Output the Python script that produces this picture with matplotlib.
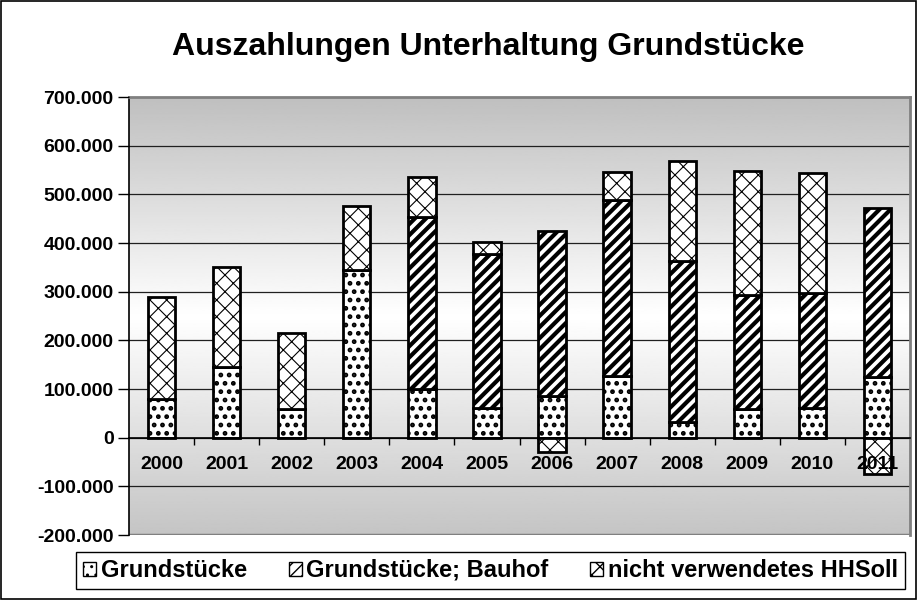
import numpy as np
from matplotlib import pyplot as plt
from matplotlib.patches import Rectangle

plt.rcParams['font.family'] = ['Liberation Sans', 'DejaVu Sans']
plt.rcParams['font.weight'] = 'bold'

years = ['2000', '2001', '2002', '2003', '2004', '2005',
         '2006', '2007', '2008', '2009', '2010', '2011']
grundstuecke = [80000, 145000, 59000, 345000, 100000, 61000,
                86000, 126000, 32000, 59000, 61000, 125000]
bauhof = [0, 0, 0, 0, 354000, 316000,
          338000, 363000, 330000, 235000, 236000, 347000]
hhsoll = [209000, 205000, 157000, 132000, 81000, 26000,
          -29000, 56000, 207000, 253000, 246000, -74000]
series_names = ['Grundstücke', 'Grundstücke; Bauhof', 'nicht verwendetes HHSoll']
y_ticks = [-200000, -100000, 0, 100000, 200000, 300000, 400000, 500000, 600000, 700000]


def fmt(v):
    return '{:,.0f}'.format(v).replace(',', '.')


fig = plt.figure(figsize=(9.17, 6.0), dpi=100)
fig.patches.append(Rectangle((0.001, 0.001), 0.998, 0.997, transform=fig.transFigure,
                             fill=False, edgecolor='black', linewidth=1.2))
ax = fig.add_axes([129 / 917, 1 - 535 / 600, (910 - 129) / 917, (535 - 97) / 600])
ax.set_axisbelow(False)

x = np.arange(len(years))
ax.set_xlim(-0.5, len(years) - 0.5)
ax.set_ylim(-200000, 700000)

# background gradient: grey at top and bottom, white in the middle
grad = np.interp(np.linspace(700000, -200000, 300), [-200000, 250000, 700000], [0.77, 1.0, 0.75])
ax.imshow(grad[:, None], cmap='gray', vmin=0, vmax=1, aspect='auto',
          extent=(-0.5, len(years) - 0.5, -200000, 700000), zorder=0)

for t in y_ticks[1:-1]:
    ax.axhline(t, color='#202020', linewidth=0.9, zorder=1)

width = 0.42
bottom_pos = np.zeros(len(years))
bottom_neg = np.zeros(len(years))
hatches = ['..', '///', 'xx']
hatch_lw = [2.2, 3.0, 0.8]
handles = []
for vals, name, h, hlw in zip([grundstuecke, bauhof, hhsoll], series_names, hatches, hatch_lw):
    vals = np.array(vals, dtype=float)
    base = np.where(vals >= 0, bottom_pos, bottom_neg)
    bars = ax.bar(x, vals, width, bottom=base, color='white', edgecolor='black',
                  hatch=h, linewidth=2.0, label=name, zorder=2)
    for b in bars:
        if hasattr(b, 'set_hatch_linewidth'):
            b.set_hatch_linewidth(hlw)
    bottom_pos = bottom_pos + np.where(vals >= 0, vals, 0)
    bottom_neg = bottom_neg + np.where(vals < 0, vals, 0)
    handles.append(bars)

for s in ['top', 'right']:
    ax.spines[s].set_color('#808080')
    ax.spines[s].set_linewidth(2)
ax.spines['left'].set_color('black')
ax.spines['left'].set_linewidth(1.2)
ax.spines['bottom'].set_position(('data', 0))
ax.spines['bottom'].set_color('black')
ax.spines['bottom'].set_linewidth(1.2)
ax.axhline(-200000, color='#808080', linewidth=2.5, zorder=1.5)

ax.set_yticks(y_ticks)
ax.set_yticklabels([fmt(v) for v in y_ticks], fontsize=14, fontweight='bold')
ax.tick_params(axis='y', direction='out', length=8, width=1, pad=3)

ax.set_xticks(x[:-1] + 0.5)
ax.set_xticklabels([])
ax.tick_params(axis='x', which='major', direction='out', length=5, width=1)
ax.set_xticks(x, minor=True)
ax.set_xticklabels(years, minor=True, fontsize=14, fontweight='bold')
ax.tick_params(axis='x', which='minor', length=0, pad=13)

fig.text(0.532, 0.922, 'Auszahlungen Unterhaltung Grundstücke', ha='center', va='center',
         fontsize=23, fontweight='bold')

leg = fig.legend(handles=handles, labels=series_names, loc='center', mode='expand',
                 bbox_to_anchor=(76 / 917, 1 - 592 / 600, (905 - 76) / 917, 43 / 600),
                 ncol=3, frameon=True, fancybox=False,
                 edgecolor='black', framealpha=1, prop={'size': 17, 'weight': 'bold'},
                 handlelength=0.55, handleheight=0.55, handletextpad=0.2, columnspacing=1.0,
                 borderpad=0.3, borderaxespad=0)
leg.get_frame().set_linewidth(1.0)
for p in leg.get_patches():
    p.set_linewidth(1.0)

plt.savefig('out.png', dpi=100)
